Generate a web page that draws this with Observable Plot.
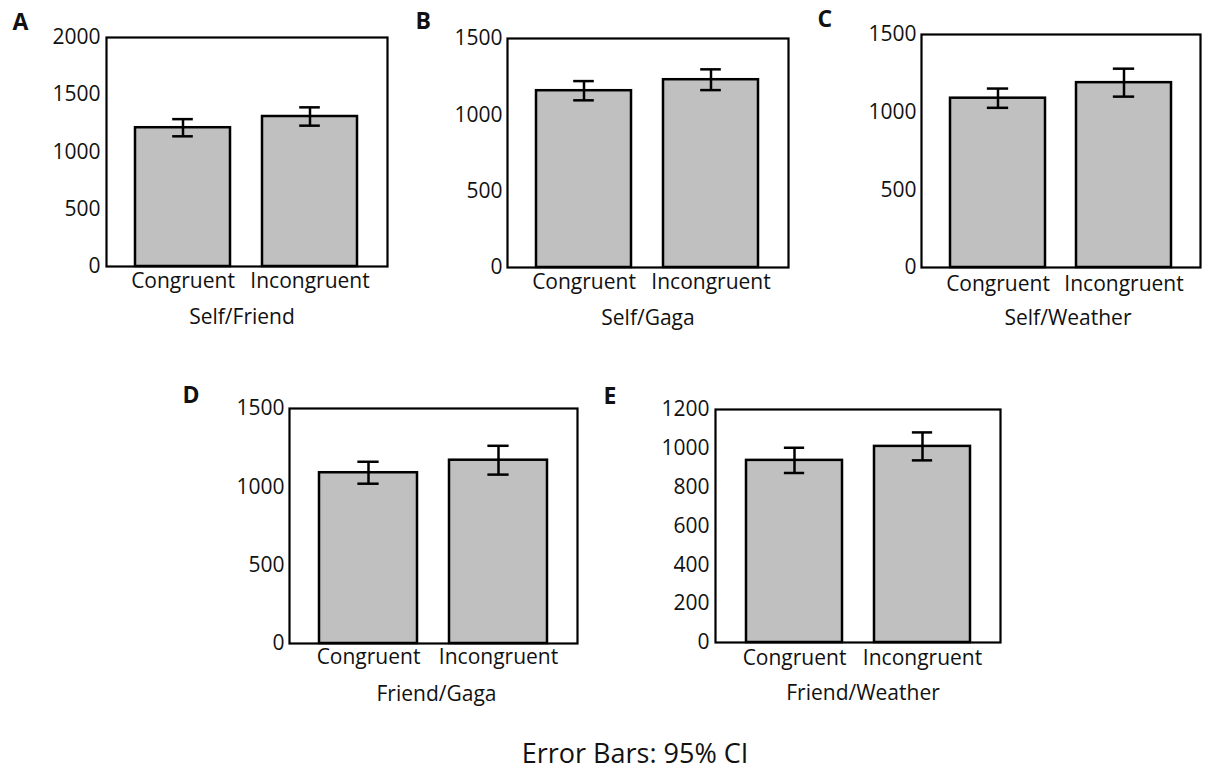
<!DOCTYPE html>
<html>
<head>
<meta charset="utf-8">
<script src="https://cdn.jsdelivr.net/npm/d3@7"></script>
<script src="https://cdn.jsdelivr.net/npm/@observablehq/plot@0.6"></script>
<style>
  body { margin: 0; background: #fff; }
  #fig { position: relative; width: 1207px; height: 771px; overflow: hidden; font-family: "Open Sans", sans-serif; color: #111; }
  .panel { position: absolute; }
  #note { position: absolute; left: 435px; width: 400px; top: 739px; text-align: center; font-size: 27px; line-height: 27px; }
</style>
</head>
<body>
<div id="fig"><div id="note"></div></div>
<script>
// Reaction times (ms) per condition for each stimulus pairing, with 95% CI half-widths
const conditions = ["Congruent", "Incongruent"];
const panelLetters = ["A", "B", "C", "D", "E"];
const pairLabels = ["Self/Friend", "Self/Gaga", "Self/Weather", "Friend/Gaga", "Friend/Weather"];
const congruentMeans = [1212, 1158, 1090, 1090, 938];
const incongruentMeans = [1310, 1230, 1190, 1170, 1010];
const congruentCI = [75, 63, 62, 70, 65];
const incongruentCI = [80, 68, 90, 92, 72];
const yMax = [2000, 1500, 1500, 1500, 1200];
const yStep = [500, 500, 500, 500, 200];
const noteText = "Error Bars: 95% CI";

// Where each panel's plotting frame sits on the page, and small text offsets
const layout = [
  {left: 106, top: 37, right: 387, bottom: 266, yPad: 6, xPad: 7,   labelDx: -5, letterDx: -94,  letterDy: -24},
  {left: 507, top: 38, right: 788, bottom: 267, yPad: 5, xPad: 6.5, labelDx: 0,  letterDx: -92,  letterDy: -26},
  {left: 921, top: 34, right: 1200, bottom: 267, yPad: 5, xPad: 8.5, labelDx: 7, letterDx: -104, letterDy: -24},
  {left: 289, top: 408, right: 577, bottom: 643, yPad: 5, xPad: 6,  labelDx: 3,  letterDx: -107, letterDy: -22},
  {left: 715, top: 409, right: 1000, bottom: 642, yPad: 6, xPad: 8, labelDx: 5,  letterDx: -112, letterDy: -22}
];

const margin = {left: 120, top: 40, right: 6, bottom: 75};
const paddingInner = 0.25, paddingOuter = 0.23;
const capWidth = 21;
const fig = document.getElementById("fig");

panelLetters.forEach((letter, i) => {
  const f = layout[i];
  const rows = [
    {cond: conditions[0], mean: congruentMeans[i], ci: congruentCI[i]},
    {cond: conditions[1], mean: incongruentMeans[i], ci: incongruentCI[i]}
  ];
  const frameW = f.right - f.left;
  const frameH = f.bottom - f.top;
  const bandwidth = frameW / (conditions.length - paddingInner + 2 * paddingOuter) * (1 - paddingInner);
  const capInset = (bandwidth - capWidth) / 2;

  const chart = Plot.plot({
    width: frameW + margin.left + margin.right,
    height: frameH + margin.top + margin.bottom,
    marginLeft: margin.left,
    marginRight: margin.right,
    marginTop: margin.top,
    marginBottom: margin.bottom,
    style: {fontFamily: "Open Sans", fontSize: "21px", background: "transparent", overflow: "visible", color: "#111"},
    x: {domain: conditions, paddingInner, paddingOuter},
    y: {domain: [0, yMax[i]]},
    marks: [
      Plot.barY(rows, {x: "cond", y: "mean", fill: "#c0c0c0", stroke: "#000", strokeWidth: 2.5}),
      Plot.ruleX(rows, {x: "cond", y1: d => d.mean - d.ci, y2: d => d.mean + d.ci, stroke: "#000", strokeWidth: 2.5}),
      Plot.tickY(rows, {x: "cond", y: d => d.mean + d.ci, insetLeft: capInset, insetRight: capInset, stroke: "#000", strokeWidth: 2.5}),
      Plot.tickY(rows, {x: "cond", y: d => d.mean - d.ci, insetLeft: capInset, insetRight: capInset, stroke: "#000", strokeWidth: 2.5}),
      Plot.frame({stroke: "#000", strokeWidth: 2.2}),
      Plot.axisY({ticks: d3.range(0, yMax[i] + 1, yStep[i]), tickSize: 0, tickPadding: f.yPad, tickFormat: d => String(d), fill: "#111", fontSize: 21, label: null}),
      Plot.axisX({tickSize: 0, tickPadding: f.xPad, fill: "#111", fontSize: 21, label: null}),
      Plot.text([pairLabels[i]], {frameAnchor: "bottom", lineAnchor: "top", dy: 43, dx: f.labelDx, text: d => d, fontSize: 21, fill: "#111"}),
      Plot.text([letter], {frameAnchor: "top-left", textAnchor: "start", lineAnchor: "top", dx: f.letterDx, dy: f.letterDy, text: d => d, fontSize: 23, fontWeight: "bold", fill: "#111"})
    ]
  });

  const holder = document.createElement("div");
  holder.className = "panel";
  holder.style.left = (f.left - margin.left) + "px";
  holder.style.top = (f.top - margin.top) + "px";
  holder.appendChild(chart);
  fig.appendChild(holder);
});

document.getElementById("note").textContent = noteText;
</script>
</body>
</html>
